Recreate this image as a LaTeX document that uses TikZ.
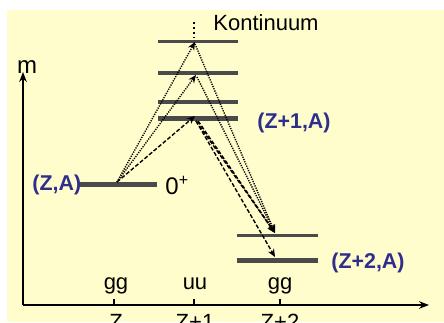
\documentclass[tikz,border=0pt]{standalone}
\usepackage{fontspec}
\setmainfont{Liberation Sans}
\usetikzlibrary{arrows.meta}
\definecolor{bgyellow}{HTML}{FFFDCC}
\definecolor{levelgray}{HTML}{4A4A4A}
\definecolor{labelblue}{HTML}{2E2E8C}
\tikzset{
  axisline/.style={line width=0.7pt,-{Stealth[length=5pt,width=3.8pt]}},
  level/.style={draw=levelgray,line width=#1},
  lbl/.style={inner sep=0pt,font=\fontsize{11}{13}\selectfont},
  biglbl/.style={inner sep=0pt,font=\fontsize{12}{14}\selectfont},
  blbl/.style={inner sep=0pt,text=labelblue,font=\fontsize{10.7}{13}\selectfont\bfseries},
  dasharrow/.style={line width=0.7pt,dash pattern=on 2pt off 1pt,-{Stealth[length=4pt,width=3.4pt]}},
  dotarrow/.style={line width=0.7pt,dash pattern=on 0.6pt off 0.6pt,-{Stealth[length=4pt,width=3.4pt]}},
}
\begin{document}
\begin{tikzpicture}[x=0.5pt,y=-0.5pt]
\useasboundingbox (0,0) rectangle (444,322);
\fill[bgyellow] (7,10) rectangle (444,322);
% axes
\coordinate (origin) at (23,305);
\coordinate (ytip) at (23,72);
\coordinate (xtip) at (429,305);
\draw[axisline] (origin) -- (ytip);
\draw[axisline] (origin) -- (xtip);
\node[biglbl,anchor=base] (m) at (27,73) {m};
% ticks
\foreach \x in {114,194,280}{
  \draw[line width=0.7pt] (\x,305) -- (\x,299);
}
\node[lbl,anchor=base] (gg1) at (116,289) {gg};
\node[lbl,anchor=base] (uu) at (195,289) {uu};
\node[lbl,anchor=base] (gg2) at (280,289) {gg};
\node[lbl,anchor=base] (zl) at (116,329) {Z};
\node[lbl,anchor=base] (z1l) at (195,329) {Z+1};
\node[lbl,anchor=base] (z2l) at (280,329) {Z+2};
% levels
\draw[level=2.5pt] (80,184) -- (157,184);
\draw[level=1.5pt] (158,41) -- (238,41);
\draw[level=1.8pt] (158,73) -- (238,73);
\draw[level=1.8pt] (158,102) -- (238,102);
\draw[level=2.5pt] (158,118) -- (238,118);
\draw[level=1.5pt] (237,235) -- (318,235);
\draw[level=2.5pt] (237,260) -- (318,260);
% labels
\node[blbl,anchor=west] (za) at (32,185) {(Z,A)};
\node[biglbl,anchor=base west] (spin) at (165,194) {0\textsuperscript{+}};
\node[blbl,anchor=west] (z1a) at (257,123) {(Z+1,A)};
\node[blbl,anchor=west] (z2a) at (331,263) {(Z+2,A)};
\node[lbl,anchor=base west] (kont) at (213,30) {Kontinuum};
% continuum dots
\coordinate (c0) at (194,22);
\coordinate (c1) at (194,38);
\draw[line width=0.9pt,dash pattern=on 0.9pt off 1.6pt] (c0) -- (c1);
% arrow points
\coordinate (s0) at (117,182);
\coordinate (u1) at (195,116);
\coordinate (u2) at (196,75);
\coordinate (u3) at (195,42);
\coordinate (v1) at (196,121);
\coordinate (v1b) at (198,121);
\coordinate (v2) at (197,77);
\coordinate (v3) at (195,44);
\coordinate (w1) at (275,233);
\coordinate (w2) at (275,257);
% upward
\draw[dasharrow] (s0) -- (u1);
\draw[dotarrow] (s0) -- (u2);
\draw[dotarrow] (s0) -- (u3);
% downward
\draw[dotarrow] (v3) -- (w1);
\draw[dotarrow] (v2) -- (w1);
\draw[dasharrow] (v1) -- (w1);
\draw[dasharrow,line width=0.8pt] (v1b) -- (w1);
\draw[dasharrow] (v1) -- (w2);
\end{tikzpicture}
\end{document}
